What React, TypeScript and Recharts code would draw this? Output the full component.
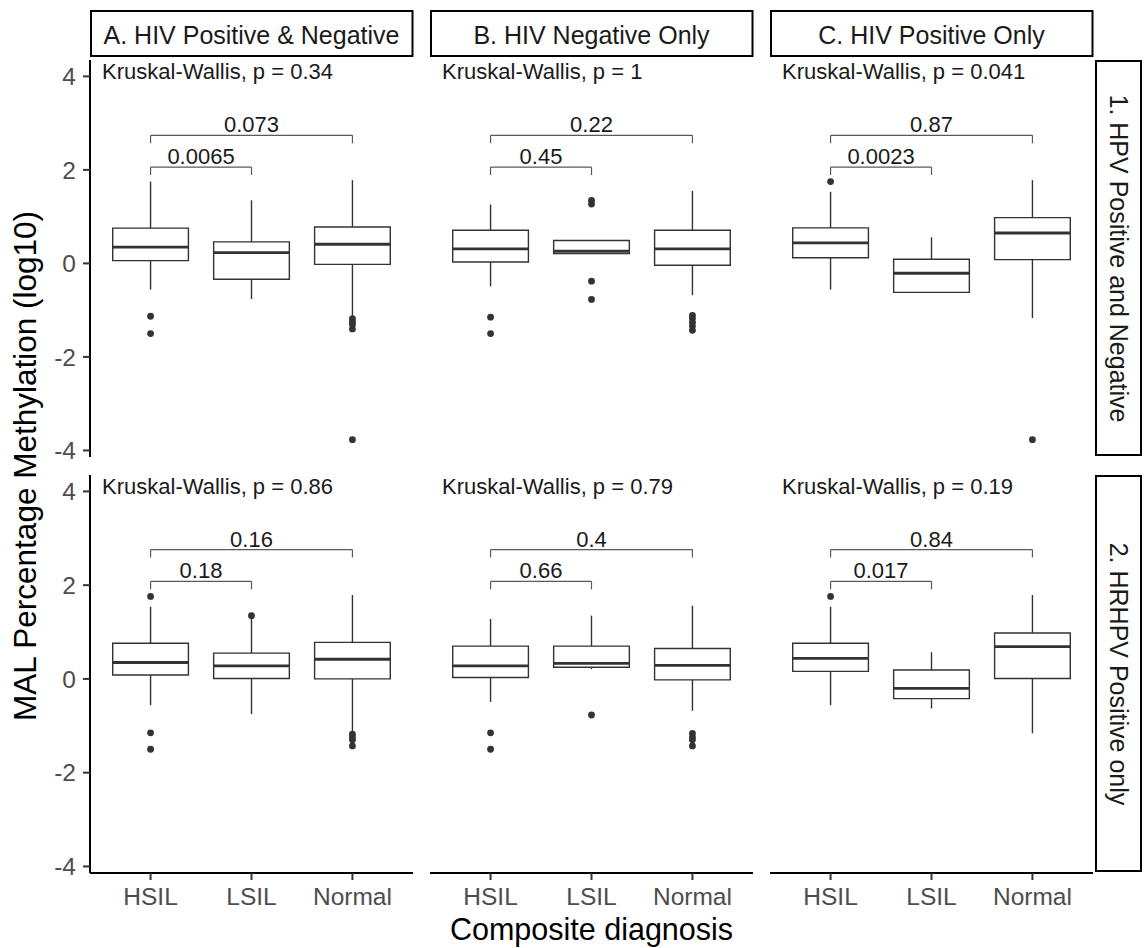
import React from 'react';
import { ScatterChart, Scatter, XAxis, YAxis, ReferenceArea, ReferenceLine, ReferenceDot } from 'recharts';

// ---------- data ----------
const categories = ['HSIL', 'LSIL', 'Normal'];
const columnTitles = ['A. HIV Positive & Negative', 'B. HIV Negative Only', 'C. HIV Positive Only'];
const rowTitles = ['1. HPV Positive and Negative', '2. HRHPV Positive only'];
const yTicks = [-4, -2, 0, 2, 4];

// panels in order 1A, 1B, 1C, 2A, 2B, 2C; values per category HSIL, LSIL, Normal
const whiskerLow = [
  [-0.56, -0.76, -1.12],
  [-0.49, 0.21, -0.68],
  [-0.56, -0.62, -1.17],
  [-0.56, -0.75, -1.15],
  [-0.49, 0.21, -0.68],
  [-0.56, -0.63, -1.16],
];
const q1 = [
  [0.06, -0.34, -0.02],
  [0.03, 0.21, -0.04],
  [0.12, -0.62, 0.08],
  [0.085, 0.01, 0.0],
  [0.03, 0.25, -0.02],
  [0.16, -0.42, 0.01],
];
const median = [
  [0.35, 0.23, 0.41],
  [0.31, 0.26, 0.31],
  [0.44, -0.21, 0.65],
  [0.35, 0.28, 0.42],
  [0.28, 0.33, 0.29],
  [0.44, -0.2, 0.69],
];
const q3 = [
  [0.755, 0.46, 0.78],
  [0.71, 0.49, 0.71],
  [0.76, 0.09, 0.98],
  [0.76, 0.55, 0.78],
  [0.7, 0.7, 0.65],
  [0.76, 0.19, 0.98],
];
const whiskerHigh = [
  [1.75, 1.35, 1.78],
  [1.26, 0.49, 1.55],
  [1.53, 0.56, 1.78],
  [1.54, 1.31, 1.79],
  [1.28, 1.35, 1.56],
  [1.54, 0.57, 1.79],
];
const outliers = [
  [[-1.13, -1.5], [], [-1.18, -1.24, -1.3, -1.4, -3.77]],
  [[-1.15, -1.5], [1.35, 1.27, -0.38, -0.77], [-1.11, -1.18, -1.26, -1.34, -1.43]],
  [[1.75], [], [-3.77]],
  [[1.76, -1.15, -1.5], [1.35], [-1.18, -1.24, -1.3, -1.43]],
  [[-1.15, -1.5], [-0.77], [-1.16, -1.24, -1.3, -1.43]],
  [[1.76], [], []],
];
const kruskalP = ['0.34', '1', '0.041', '0.86', '0.79', '0.19'];
const pHsilNormal = ['0.073', '0.22', '0.87', '0.16', '0.4', '0.84'];
const pHsilLsil = ['0.0065', '0.45', '0.0023', '0.18', '0.66', '0.017'];
const bracketLongY = [2.74, 2.74, 2.74, 2.76, 2.76, 2.76];
const bracketShortY = [2.06, 2.06, 2.06, 2.08, 2.08, 2.08];
const bracketTip = 0.17;
const kruskalY = 3.95;
const kruskalX = 0.52;

// ---------- layout ----------
const FONT = '"Liberation Sans", Arial, Helvetica, sans-serif';
const BOX = '#333333';
const colLeft = [90, 430, 770];
const plotW = 323;
const rowTop = [60, 475];
const rowH = [397, 398];
const HALF = 0.375;

function Panel({ idx }: { idx: number }) {
  const row = Math.floor(idx / 3);
  const col = idx % 3;
  const showY = col === 0;
  const showX = row === 1;
  const yW = showY ? 90 : 0;
  const xH = showX ? 60 : 0;
  const padB = showX ? 0 : 16;
  const width = plotW + yW;
  const height = rowH[row] + xH + padB;
  const pts = outliers[idx].flatMap((arr, i) => arr.map((v) => ({ x: i + 1, y: v })));
  const elems: React.ReactNode[] = [];
  categories.forEach((_, i) => {
    const cx = i + 1;
    elems.push(
      <ReferenceLine key={`wu${i}`} segment={[{ x: cx, y: q3[idx][i] }, { x: cx, y: whiskerHigh[idx][i] }]} stroke={BOX} strokeWidth={1.4} />,
      <ReferenceLine key={`wl${i}`} segment={[{ x: cx, y: q1[idx][i] }, { x: cx, y: whiskerLow[idx][i] }]} stroke={BOX} strokeWidth={1.4} />,
      <ReferenceArea key={`b${i}`} x1={cx - HALF} x2={cx + HALF} y1={q1[idx][i]} y2={q3[idx][i]} fill="#ffffff" fillOpacity={0} stroke={BOX} strokeWidth={1.4} strokeOpacity={1} />,
      <ReferenceLine key={`m${i}`} segment={[{ x: cx - HALF, y: median[idx][i] }, { x: cx + HALF, y: median[idx][i] }]} stroke={BOX} strokeWidth={2.8} />
    );
  });
  const bl = bracketLongY[idx];
  const bs = bracketShortY[idx];
  const bStroke = '#595959';
  const labelStyle = { fill: '#1a1a1a', fontSize: 22, fontFamily: FONT };
  return (
    <div style={{ position: 'absolute', left: colLeft[col] - yW, top: rowTop[row] }}>
      <ScatterChart width={width} height={height} margin={{ top: 0, right: 0, bottom: padB, left: 0 }}>
        <XAxis
          type="number"
          dataKey="x"
          domain={[0.4, 3.6]}
          ticks={[1, 2, 3]}
          allowDataOverflow
          hide={!showX}
          height={xH}
          interval={0}
          tickFormatter={(v: number) => categories[v - 1]}
          axisLine={{ stroke: '#000', strokeWidth: 2 }}
          tickLine={{ stroke: '#333', strokeWidth: 2 }}
          tickSize={7}
          tickMargin={8}
          tick={{ fill: '#4d4d4d', fontSize: 24.5, fontFamily: FONT }}
        />
        <YAxis
          type="number"
          dataKey="y"
          domain={[-4.14, 4.35]}
          ticks={yTicks}
          allowDataOverflow
          hide={!showY}
          width={yW}
          interval={0}
          axisLine={{ stroke: '#000', strokeWidth: 2 }}
          tickLine={{ stroke: '#333', strokeWidth: 2 }}
          tickSize={7}
          tickMargin={7}
          tick={{ fill: '#4d4d4d', fontSize: 24.5, fontFamily: FONT }}
        />
        {elems}
        <ReferenceLine segment={[{ x: 1, y: bl }, { x: 3, y: bl }]} stroke={bStroke} strokeWidth={1.2}
          label={{ value: pHsilNormal[idx], position: 'top', offset: 3, ...labelStyle }} />
        <ReferenceLine segment={[{ x: 1, y: bl }, { x: 1, y: bl - bracketTip }]} stroke={bStroke} strokeWidth={1.2} />
        <ReferenceLine segment={[{ x: 3, y: bl }, { x: 3, y: bl - bracketTip }]} stroke={bStroke} strokeWidth={1.2} />
        <ReferenceLine segment={[{ x: 1, y: bs }, { x: 2, y: bs }]} stroke={bStroke} strokeWidth={1.2}
          label={{ value: pHsilLsil[idx], position: 'top', offset: 3, ...labelStyle }} />
        <ReferenceLine segment={[{ x: 1, y: bs }, { x: 1, y: bs - bracketTip }]} stroke={bStroke} strokeWidth={1.2} />
        <ReferenceLine segment={[{ x: 2, y: bs }, { x: 2, y: bs - bracketTip }]} stroke={bStroke} strokeWidth={1.2} />
        <ReferenceDot x={kruskalX} y={kruskalY} r={0} fill="none" stroke="none"
          label={{ value: `Kruskal-Wallis, p = ${kruskalP[idx]}`, position: 'insideBottomLeft', offset: 0, ...labelStyle }} />
        <Scatter
          data={pts}
          isAnimationActive={false}
          shape={(p: any) => <circle cx={p.cx} cy={p.cy} r={3.4} fill="#333333" />}
        />
      </ScatterChart>
    </div>
  );
}

export default function App() {
  return (
    <div style={{ position: 'absolute', left: 0, top: 0, width: 1147, height: 948, background: '#fff', fontFamily: FONT }}>
      <svg width={1147} height={948} style={{ position: 'absolute', left: 0, top: 0 }}>
        {columnTitles.map((t, c) => (
          <g key={t}>
            <rect x={colLeft[c] + 1} y={11} width={plotW - 1.5} height={45} fill="#fff" stroke="#000" strokeWidth={2} />
            <text x={colLeft[c] + plotW / 2} y={44} textAnchor="middle" fontSize={25} fill="#1a1a1a" fontFamily={FONT}>{t}</text>
          </g>
        ))}
        {rowTitles.map((t, r) => (
          <g key={t}>
            <rect x={1096} y={rowTop[r] + 1} width={45} height={rowH[r] - 3} fill="#fff" stroke="#000" strokeWidth={2} />
            <text
              x={1118.5}
              y={rowTop[r] + rowH[r] / 2}
              dy="0.35em"
              textAnchor="middle"
              fontSize={25}
              fill="#1a1a1a"
              fontFamily={FONT}
              transform={`rotate(90, 1118.5, ${rowTop[r] + rowH[r] / 2})`}
            >{t}</text>
          </g>
        ))}
        <text x={36} y={466} textAnchor="middle" fontSize={31.5} fill="#000" fontFamily={FONT} transform="rotate(-90, 36, 466)">
          MAL Percentage Methylation (log10)
        </text>
        <text x={591.5} y={940} textAnchor="middle" fontSize={30.5} fill="#000" fontFamily={FONT}>
          Composite diagnosis
        </text>
      </svg>
      {[0, 1, 2, 3, 4, 5].map((i) => (
        <Panel key={i} idx={i} />
      ))}
    </div>
  );
}
